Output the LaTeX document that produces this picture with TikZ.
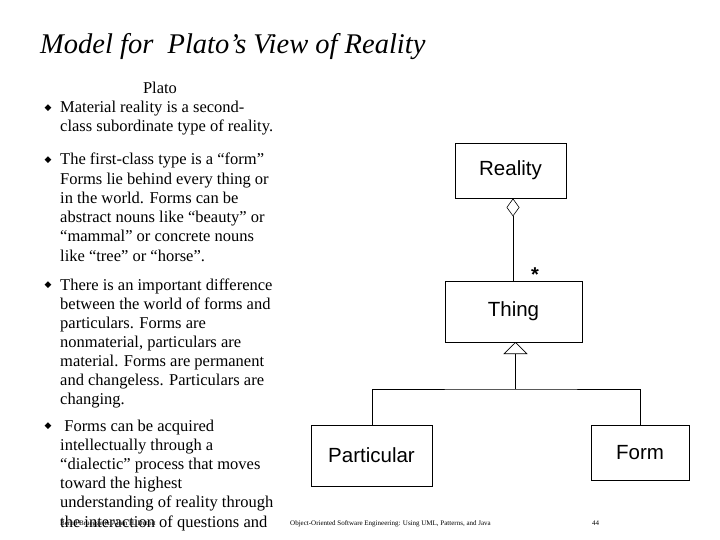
\documentclass[tikz,border=0pt]{standalone}
\usepackage{fontspec}
\setmainfont{Liberation Serif}
\newfontfamily\boxfont{Liberation Sans}
\newfontfamily\symfont{DejaVu Sans}
\usetikzlibrary{arrows.meta}
\begin{document}
\begin{tikzpicture}[x=1pt,y=-1pt,
  cls/.style={draw, line width=0.8pt, inner sep=0pt, font=\boxfont\fontsize{20.5}{22}\selectfont},
  ln/.style={anchor=base west, inner sep=0pt, font=\fontsize{16.5}{19}\selectfont},
  bul/.style={inner sep=0pt, font=\symfont\fontsize{9}{10}\selectfont},
  edge/.style={draw, line width=0.6pt},
  foot/.style={inner sep=0pt, anchor=base west, font=\fontsize{7}{8}\selectfont}]
\useasboundingbox (0,0) rectangle (720,540);
\node[anchor=base west, inner sep=0pt, font=\itshape\fontsize{28.5}{32}\selectfont] (title) at (40,54) {Model for\ \ Plato’s View of Reality};
\node[ln, anchor=base] (plato) at (160,94) {Plato};
\foreach \t [count=\i] in {Material reality is a second-,class subordinate type of reality.}
  \node[ln] (pa\i) at (60,{113+(\i-1)*19}) {\t};
\foreach \t [count=\i] in {The first-class type is a “form”,Forms lie behind every thing or,in the world. Forms can be,abstract nouns like “beauty” or,“mammal” or concrete nouns,like “tree” or “horse”.}
  \node[ln] (pb\i) at (60,{165+(\i-1)*19.2}) {\t};
\foreach \t [count=\i] in {There is an important difference,between the world of forms and,particulars. Forms are,nonmaterial{,} particulars are,material. Forms are permanent,and changeless. Particulars are,changing.}
  \node[ln] (pc\i) at (60,{290+(\i-1)*19}) {\t};
\foreach \t [count=\i] in {\ Forms can be acquired,intellectually through a,“dialectic” process that moves,toward the highest,understanding of reality through,the interaction of questions and}
  \node[ln] (pd\i) at (60,{431+(\i-1)*19.2}) {\t};
\foreach \y [count=\i] in {108,160,285,426}
  \node[bul] (b\i) at (48,\y) {◆};
% footer
\node[foot] (f1) at (60,525) {Bernd Bruegge \& Allen H. Dutoit};
\node[foot] (f2) at (290,525) {Object-Oriented Software Engineering: Using UML, Patterns, and Java};
\node[foot] (f3) at (592,525) {44};
% UML
\node[cls, minimum width=111, minimum height=55] (reality) at (510.5,170.5) {Reality};
\node[cls, minimum width=137, minimum height=61] (thing) at (513.5,311.5) {Thing};
\node[cls, minimum width=121, minimum height=61] (part) at (371.5,455.5) {Particular};
\node[cls, minimum width=98, minimum height=55] (form) at (640,452.5) {Form};
\draw[edge, {Diamond[open, length=18pt, width=13pt]}-] (reality.south -| 513,0) -- (513,281);
\node[inner sep=0pt, font=\boxfont\bfseries\fontsize{20}{20}\selectfont] (star) at (535,275) {*};
\coordinate (junc) at (515.5,389);
\draw[edge, {Triangle[open, length=12pt, width=24pt]}-] (515.5,342) -- (junc);
\draw[edge] (part.north -| 372,0) |- (junc) -| (form.north -| 640,0);
\end{tikzpicture}
\end{document}
